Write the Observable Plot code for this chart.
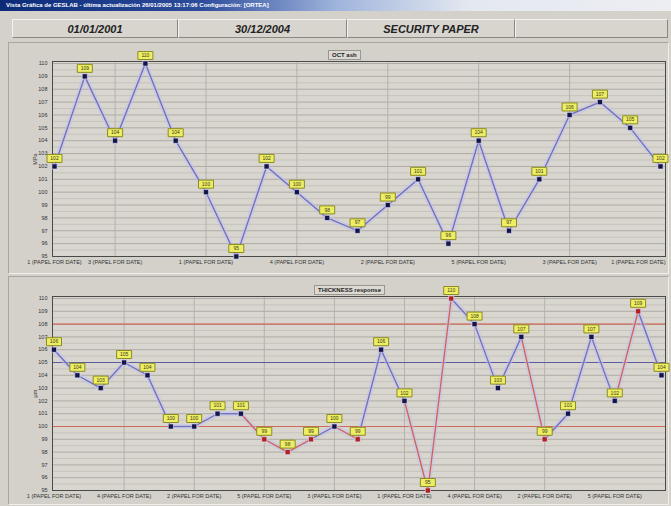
<!DOCTYPE html>
<html><head><meta charset="utf-8">
<script src="https://cdn.jsdelivr.net/npm/d3@7"></script>
<script src="https://cdn.jsdelivr.net/npm/@observablehq/plot@0.6"></script>
<style>
body{margin:0;width:671px;height:506px;background:#d4d1cb;position:relative;overflow:hidden;font-family:"Liberation Sans",Arial,sans-serif}
#titlebar{position:absolute;left:0;top:0;width:671px;height:11px;background:linear-gradient(90deg,#0c2a78 0%,#2c4c9c 30%,#9fb4dc 50%,#e4e8f0 70%,#eceef2 100%);color:#fff;font-size:6px;font-weight:bold;line-height:11px;padding-left:6px;box-sizing:border-box;white-space:nowrap}
.cell{position:absolute;top:19px;height:19px;border:1px solid #8a8780;border-top-color:#f4f2ee;border-left-color:#f4f2ee;box-sizing:border-box;font-style:italic;font-weight:bold;font-size:11px;color:#222;text-align:center;line-height:18px;background:#d8d5cf}
.panel{position:absolute;left:8px;width:661px;border:1px solid #a8a59f;border-bottom-color:#f0eee9;border-right-color:#f0eee9;box-sizing:border-box}
.ctitle{position:absolute;font-size:6px;font-weight:bold;color:#222;white-space:nowrap;line-height:8px;padding:0 3px;border:1px solid #9a978f;background:#dcd9d3}
.chart{position:absolute;left:0}
</style></head><body>
<div id="titlebar">Vista Gráfica de GESLAB - última actualización 26/01/2005 13:17:06 Configuración: [ORTEA]</div>
<div class="cell" style="left:12px;width:166px">01/01/2001</div>
<div class="cell" style="left:178px;width:169px">30/12/2004</div>
<div class="cell" style="left:347px;width:168px">SECURITY PAPER</div>
<div class="cell" style="left:515px;width:153px"></div>
<div class="panel" style="top:42px;height:232px"></div>
<div class="panel" style="top:276px;height:229px"></div>
<div id="top" class="chart" style="top:45px"></div>
<div id="bot" class="chart" style="top:275px"></div>
<div class="ctitle" style="left:328px;top:50px">OCT ash</div>
<div class="ctitle" style="left:314px;top:285px">THICKNESS response</div>
<script>
// ---- data ----
const yTicks = [95,96,97,98,99,100,101,102,103,104,105,106,107,108,109,110];
const topCategories = [
 "1 (PAPEL FOR DATE)","2 (PAPEL FOR DATE)","3 (PAPEL FOR DATE)","4 (PAPEL FOR DATE)","5 (PAPEL FOR DATE)",
 "1 (PAPEL FOR DATE)","2 (PAPEL FOR DATE)","3 (PAPEL FOR DATE)","4 (PAPEL FOR DATE)","5 (PAPEL FOR DATE)",
 "1 (PAPEL FOR DATE)","2 (PAPEL FOR DATE)","3 (PAPEL FOR DATE)","4 (PAPEL FOR DATE)","5 (PAPEL FOR DATE)",
 "1 (PAPEL FOR DATE)","2 (PAPEL FOR DATE)","3 (PAPEL FOR DATE)","4 (PAPEL FOR DATE)","5 (PAPEL FOR DATE)",
 "1 (PAPEL FOR DATE)"];
const topValues = [102,109,104,110,104,100,95,102,100,98,97,99,101,96,104,97,101,106,107,105,102];
const topShownTicks = [0,2,5,8,11,14,17,20];

const botCategories = [
 "1 (PAPEL FOR DATE)","2 (PAPEL FOR DATE)","3 (PAPEL FOR DATE)","4 (PAPEL FOR DATE)","5 (PAPEL FOR DATE)",
 "1 (PAPEL FOR DATE)","2 (PAPEL FOR DATE)","3 (PAPEL FOR DATE)","4 (PAPEL FOR DATE)","5 (PAPEL FOR DATE)",
 "1 (PAPEL FOR DATE)","2 (PAPEL FOR DATE)","3 (PAPEL FOR DATE)","4 (PAPEL FOR DATE)","5 (PAPEL FOR DATE)",
 "1 (PAPEL FOR DATE)","2 (PAPEL FOR DATE)","3 (PAPEL FOR DATE)","4 (PAPEL FOR DATE)","5 (PAPEL FOR DATE)",
 "1 (PAPEL FOR DATE)","2 (PAPEL FOR DATE)","3 (PAPEL FOR DATE)","4 (PAPEL FOR DATE)","5 (PAPEL FOR DATE)",
 "1 (PAPEL FOR DATE)","2 (PAPEL FOR DATE)"];
const botValues = [106,104,103,105,104,100,100,101,101,99,98,99,100,99,106,102,95,110,108,103,107,99,101,107,102,109,104];
const botShownTicks = [0,3,6,9,12,15,18,21,24];
const upperLimit = 108, targetLine = 105, lowerLimit = 100;
const minorGrid = [95.5,96.5,97.5,98.5,99.5,100.5,101.5,102.5,103.5,104.5,105.5,106.5,107.5,108.5,109.5];

// ---- helpers ----
const labelBox = {draw(ctx){ ctx.rect(-7.5,-4,15,8); }};
const LINE = "#6e6ebc", HALO = "#c0c0f0", PT = "#14144a", RED = "#b02020";

function chart({cats, values, shown, height, mt, mb, il, ir, ylabel, extra, segments, outOf}) {
  const data = values.map((v,i)=>({i, v, cat: cats[i], out: outOf ? outOf(v) : false}));
  const last = values.length - 1;
  const inner = shown.filter(i => i !== last);
  const edge = shown.filter(i => i === last);
  return Plot.plot({
    width: 671, height, marginLeft: 52, marginRight: 6, marginTop: mt, marginBottom: mb,
    style: {background: "transparent", fontFamily: "Liberation Sans, Arial, sans-serif"},
    x: {type: "linear", domain: [0, last], insetLeft: il, insetRight: ir},
    y: {domain: [95,110], insetTop: 2, insetBottom: 0},
    marks: [
      Plot.frame({fill: "#d9d6d0"}),
      Plot.ruleY(minorGrid, {stroke: "#c6c3bd", strokeWidth: 1}),
      Plot.ruleY(yTicks, {stroke: "#aeaba5", strokeWidth: 1}),
      Plot.ruleX(shown.slice(1, -1), {stroke: "#b4b1ab", strokeWidth: 1}),
      ...(extra || []),
      Plot.frame({stroke: "#4a4a4a", strokeWidth: 1}),
      Plot.axisY({ticks: yTicks, tickFormat: d=>String(d), tickSize: 0, tickPadding: 5, fontSize: 5.5, fill:"#333",
        label: ylabel, labelAnchor: "center", labelArrow: "none", labelOffset: 19}),
      Plot.axisX({ticks: inner, tickFormat: i => cats[i], tickSize: 0, tickPadding: 4, fontSize: 5.5, fill:"#333", label: null}),
      Plot.text(edge, {x: d=>d, text: i => cats[i], frameAnchor: "bottom", lineAnchor: "top", textAnchor: "end", dy: 4, dx: 5, fontSize: 5.5, fill: "#333"}),
      ...(segments ? [
        Plot.link(segments, {x1:"x1", y1:"y1", x2:"x2", y2:"y2", stroke: HALO, strokeWidth: 5, strokeOpacity: 0.5}),
        Plot.link(segments, {x1:"x1", y1:"y1", x2:"x2", y2:"y2", stroke: d=>d.red ? "#d4604e" : LINE, strokeWidth: 1.3})
      ] : [
        Plot.line(data, {x:"i", y:"v", stroke: HALO, strokeWidth: 5, strokeOpacity: 0.5}),
        Plot.line(data, {x:"i", y:"v", stroke: LINE, strokeWidth: 1.3})
      ]),
      Plot.dot(data, {x:"i", y:"v", symbol:"square", r: 2.9, fill: d=>d.out ? RED : PT, stroke: "#e8e8ff", strokeWidth: 0.6}),
      Plot.dot(data, {x:"i", y:"v", symbol: labelBox, r: 4, dy: -8, fill: "#eeee66", stroke: "#8c8c20", strokeWidth: 1}),
      Plot.text(data, {x:"i", y:"v", text: d=>String(d.v), dy: -8, fontSize: 5, fill: "#3a3a10"})
    ]
  });
}

document.getElementById("top").append(chart({
  cats: topCategories, values: topValues, shown: topShownTicks,
  height: 230, mt: 16, mb: 19, il: 2, ir: 5, ylabel: "MPa"
}));

const isOut = v => v < lowerLimit || v > upperLimit;
const botSegments = botValues.slice(1).map((v,k)=>({x1:k, y1:botValues[k], x2:k+1, y2:v, red: isOut(v)}));
document.getElementById("bot").append(chart({
  cats: botCategories, values: botValues, shown: botShownTicks,
  height: 231, mt: 21, mb: 16, il: 1.5, ir: 4, ylabel: "µm",
  extra: [
    Plot.ruleY([upperLimit, lowerLimit], {stroke: "#d06a5a", strokeWidth: 1.1}),
    Plot.ruleY([targetLine], {stroke: "#5a5aa0", strokeWidth: 1.2})
  ],
  segments: botSegments, outOf: isOut
}));
</script>
</body></html>
